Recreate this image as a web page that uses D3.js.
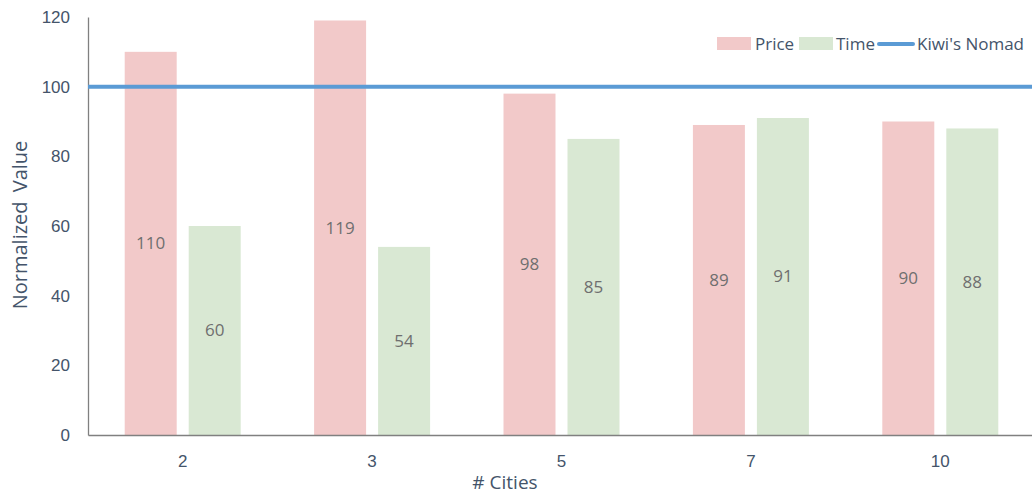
<!DOCTYPE html>
<html>
<head>
<meta charset="utf-8">
<script src="https://cdn.jsdelivr.net/npm/d3@7"></script>
<style>
  html, body { margin: 0; padding: 0; background: #fff; }
  svg { display: block; font-family: "Open Sans", Lato, "Liberation Sans", sans-serif; }
</style>
</head>
<body>
<svg id="chart" width="1032" height="496"></svg>
<script>
// Cities visited vs. normalized price / travel time (Kiwi's Nomad = 100)
const cities = ["2", "3", "5", "7", "10"];
const priceValues = [110, 119, 98, 89, 90];
const timeValues = [60, 54, 85, 91, 88];
const baselineValue = 100;
const yTicks = [0, 20, 40, 60, 80, 100, 120];
const seriesNames = ["Price", "Time"];

const colors = { Price: "#f2c9c9", Time: "#d9e8d3", line: "#5b9bd5" };
const textColor = "#44546a";

const svg = d3.select("#chart");
const margin = { left: 88, right: 0, top: 17, bottom: 61 };
const W = 1032, H = 496;
const plotBottom = H - margin.bottom;

const x0 = d3.scaleBand().domain(cities).range([margin.left, 1035]);
const x1 = d3.scaleBand().domain(seriesNames).range([0, 116]).paddingInner(0.1875);
const y = d3.scaleLinear().domain([0, 120]).range([plotBottom, margin.top]);

const rows = cities.map((c, i) => ({ city: c, Price: priceValues[i], Time: timeValues[i] }));

// Bars
const groups = svg.append("g").selectAll("g").data(rows).join("g")
  .attr("transform", d => `translate(${x0(d.city) + x0.bandwidth() / 2 - 58},0)`);

groups.selectAll("rect")
  .data(d => seriesNames.map(k => ({ key: k, value: d[k] })))
  .join("rect")
  .attr("x", d => x1(d.key))
  .attr("width", x1.bandwidth())
  .attr("y", d => y(d.value))
  .attr("height", d => plotBottom - y(d.value))
  .attr("fill", d => colors[d.key]);

// Value labels in the middle of each bar
groups.selectAll("text")
  .data(d => seriesNames.map(k => ({ key: k, value: d[k] })))
  .join("text")
  .attr("x", d => x1(d.key) + x1.bandwidth() / 2)
  .attr("y", d => y(d.value / 2))
  .attr("dy", "0.35em")
  .attr("text-anchor", "middle")
  .attr("fill", "#6f6f6f")
  .attr("font-size", 17)
  .text(d => d.value);

// Y axis
const yAxis = svg.append("g")
  .attr("transform", `translate(${margin.left},0)`)
  .call(d3.axisLeft(y).tickValues(yTicks).tickSize(0).tickPadding(18));
yAxis.select(".domain").attr("stroke", "#808080").attr("stroke-width", 1.3);
yAxis.selectAll("text").attr("fill", textColor).attr("font-size", 17)
  .attr("font-family", "inherit");

// X axis
const xAxis = svg.append("g")
  .attr("transform", `translate(0,${plotBottom})`)
  .call(d3.axisBottom(x0).tickSize(0).tickPadding(20));
xAxis.select(".domain").attr("stroke", "#808080").attr("stroke-width", 1.3);
xAxis.selectAll("text").attr("fill", textColor).attr("font-size", 17)
  .attr("font-family", "inherit");

// Baseline reference line
svg.append("line")
  .attr("x1", margin.left).attr("x2", W)
  .attr("y1", y(baselineValue)).attr("y2", y(baselineValue))
  .attr("stroke", colors.line).attr("stroke-width", 4);

// Axis titles
svg.append("text")
  .attr("x", 505).attr("y", 482)
  .attr("dy", "0.35em")
  .attr("text-anchor", "middle")
  .attr("fill", textColor).attr("font-size", 19)
  .text("# Cities");

svg.append("text")
  .attr("transform", "translate(27,225) rotate(-90)")
  .attr("text-anchor", "middle")
  .attr("fill", textColor).attr("font-size", 20)
  .attr("word-spacing", 4)
  .text("Normalized Value");

// Legend
const legend = svg.append("g").attr("font-size", 17).attr("fill", textColor);
const legendItems = [
  { name: "Price", type: "rect", sx: 717, tx: 755 },
  { name: "Time", type: "rect", sx: 799, tx: 836 },
  { name: "Kiwi's Nomad", type: "line", sx: 879, tx: 917 }
];
legendItems.forEach(it => {
  if (it.type === "rect") {
    legend.append("rect").attr("x", it.sx).attr("y", 37).attr("width", 34).attr("height", 13)
      .attr("fill", colors[it.name]);
  } else {
    legend.append("line").attr("x1", it.sx).attr("x2", it.sx + 34).attr("y1", 44).attr("y2", 44)
      .attr("stroke", colors.line).attr("stroke-width", 4).attr("stroke-linecap", "round");
  }
  legend.append("text").attr("x", it.tx).attr("y", 44).attr("dy", "0.35em").text(it.name);
});
</script>
</body>
</html>
